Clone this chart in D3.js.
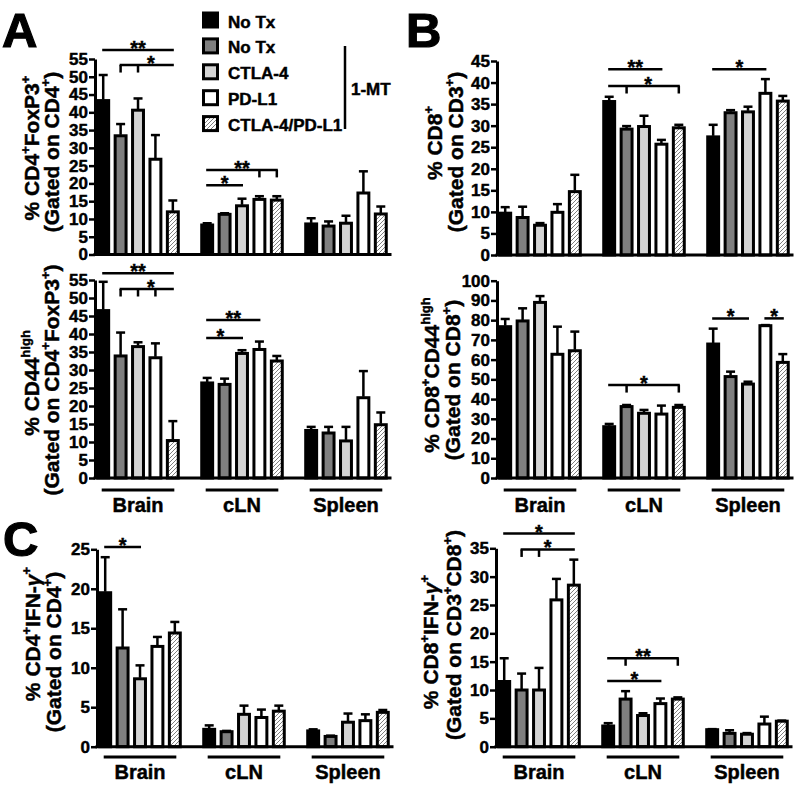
<!DOCTYPE html>
<html><head><meta charset="utf-8">
<script src="https://cdn.jsdelivr.net/npm/d3@7"></script>
<style>
body{margin:0;background:#fff}
svg{display:block}
text{font-family:"Liberation Sans",Arial,Helvetica,sans-serif;font-weight:bold;fill:#000;stroke:#000;stroke-width:0.45px}
</style>
</head><body>
<svg id="chart" width="800" height="790"></svg>
<script>
// ---------- DATA ----------
const groups = ["Brain", "cLN", "Spleen"];
const seriesNames = ["No Tx", "No Tx", "CTLA-4", "PD-L1", "CTLA-4/PD-L1"];
const seriesFills = ["#000000", "#7f7f7f", "#d3d3d3", "#ffffff", "url(#hatch)"];
const bracketLabel = "1-MT";

// Panel A (top): % CD4+FoxP3+
const aTopTicks = [0, 5, 10, 15, 20, 25, 30, 35, 40, 45, 50, 55];
const aTopMean = [[43.3, 33.4, 40.6, 26.8, 12.0], [8.3, 11.3, 13.7, 15.5, 15.3], [8.6, 8.0, 8.8, 17.3, 11.4]];
const aTopSem  = [[7.2, 3.3, 3.3, 6.8, 3.2], [0.5, 0.3, 2.0, 0.9, 1.1], [1.6, 1.3, 2.1, 6.1, 2.1]];
const aTopSig  = [
  {g: 0, from: 0, to: 4, v: 57.5, ticks: [], label: "**"},
  {g: 0, from: 1, to: 4, v: 53.3, ticks: [1, 2], label: "*"},
  {g: 1, from: 0, to: 4, v: 23.8, ticks: [3, 4], label: "**"},
  {g: 1, from: 0, to: 2, v: 19.5, ticks: [], label: "*"}
];
// Panel A (bottom): % CD44high
const aBotTicks = [0, 5, 10, 15, 20, 25, 30, 35, 40, 45, 50, 55];
const aBotMean = [[46.5, 33.9, 36.5, 33.4, 10.4], [26.4, 26.0, 34.6, 35.7, 32.5], [13.2, 12.5, 10.3, 22.3, 14.8]];
const aBotSem  = [[8.0, 6.5, 1.2, 4.0, 5.4], [1.4, 1.6, 0.9, 2.2, 1.4], [1.0, 1.7, 3.9, 7.4, 3.4]];
const aBotSig  = [
  {g: 0, from: 0, to: 4, v: 56.9, ticks: [], label: "**"},
  {g: 0, from: 1, to: 4, v: 52.5, ticks: [1, 2, 3], label: "*"},
  {g: 1, from: 0, to: 3, v: 43.9, ticks: [], label: "**"},
  {g: 1, from: 0, to: 2, v: 38.9, ticks: [], label: "*"}
];
// Panel B (top): % CD8+
const bTopTicks = [0, 5, 10, 15, 20, 25, 30, 35, 40, 45];
const bTopMean = [[9.7, 8.7, 6.9, 9.9, 14.7], [35.6, 29.2, 29.8, 25.7, 29.5], [27.4, 33.0, 33.2, 37.5, 35.7]];
const bTopSem  = [[1.4, 2.5, 0.5, 1.9, 3.9], [1.1, 0.7, 2.5, 1.0, 0.7], [2.8, 0.6, 1.2, 3.3, 1.2]];
const bTopSig  = [
  {g: 1, from: 0, to: 3, v: 43.1, ticks: [], label: "**"},
  {g: 1, from: 0, to: 4, v: 39.2, ticks: [1, 4], label: "*"},
  {g: 2, from: 0, to: 3, v: 43.1, ticks: [], label: "*"}
];
// Panel B (bottom): % CD8+CD44high
const bBotTicks = [0, 10, 20, 30, 40, 50, 60, 70, 80, 90, 100];
const bBotMean = [[76.7, 79.6, 89.0, 62.7, 64.5], [26.0, 36.2, 32.8, 32.4, 35.8], [67.9, 51.4, 47.6, 77.2, 58.6]];
const bBotSem  = [[3.9, 6.4, 3.2, 14.0, 9.7], [1.4, 0.8, 1.7, 4.3, 1.2], [7.8, 2.5, 1.2, 0.3, 4.2]];
const bBotSig  = [
  {g: 1, from: 0, to: 4, v: 47.1, ticks: [1, 4], label: "*"},
  {g: 2, from: 0, to: 2, v: 80.9, ticks: [], label: "*"},
  {g: 2, from: 3, to: 4, v: 80.9, ticks: [], label: "*"}
];
// Panel C (left): % CD4+IFN-γ+
const cLeftTicks = [0, 5, 10, 15, 20, 25];
const cLeftMean = [[19.5, 12.5, 8.6, 12.7, 14.4], [2.2, 1.9, 4.1, 3.7, 4.5], [2.0, 1.3, 3.1, 3.3, 4.35]];
const cLeftSem  = [[4.5, 4.9, 1.7, 1.2, 1.4], [0.5, 0.1, 1.1, 1.0, 0.7], [0.2, 0.1, 1.1, 0.8, 0.3]];
const cLeftSig  = [
  {g: 0, from: 0, to: 2, v: 25.3, ticks: [], label: "*"}
];
// Panel C (right): % CD8+IFN-γ+
const cRightTicks = [0, 5, 10, 15, 20, 25, 30, 35];
const cRightMean = [[11.5, 10.0, 10.0, 25.9, 28.5], [3.65, 8.4, 5.5, 7.6, 8.4], [3.0, 2.35, 2.2, 4.0, 4.5]];
const cRightSem  = [[4.1, 2.9, 3.9, 3.7, 4.5], [0.5, 1.4, 0.4, 0.9, 0.3], [0.1, 0.55, 0.2, 1.3, 0.1]];
const cRightSig  = [
  {g: 0, from: 0, to: 4, v: 37.6, ticks: [], label: "*"},
  {g: 0, from: 1, to: 4, v: 34.8, ticks: [1, 2], label: "*"},
  {g: 1, from: 0, to: 4, v: 15.6, ticks: [1, 4], label: "**"},
  {g: 1, from: 0, to: 3, v: 11.6, ticks: [], label: "*"}
];

// ---------- LAYOUT ----------
const panels = [
  {mean: aTopMean, sem: aTopSem, ticks: aTopTicks, sig: aTopSig, max: 55,
   title: ["% CD4^{+}FoxP3^{+}", "(Gated on CD4^{+})"],
   axisX: 95, x0: 94.5, y0: 254.5, y1: 59, tx: [39, 59], ty: [148, 152], glY: null},
  {mean: aBotMean, sem: aBotSem, ticks: aBotTicks, sig: aBotSig, max: 55,
   title: ["% CD44^{high}", "(Gated on CD4^{+}FoxP3^{+})"],
   axisX: 95, x0: 94.5, y0: 478, y1: 280, tx: [39, 59], ty: [383, 380], glY: 490},
  {mean: bTopMean, sem: bTopSem, ticks: bTopTicks, sig: bTopSig, max: 45,
   title: ["% CD8^{+}", "(Gated on CD3^{+})"],
   axisX: 497, x0: 496.5, y0: 255, y1: 61, tx: [442, 463], ty: [143, 152], glY: null},
  {mean: bBotMean, sem: bBotSem, ticks: bBotTicks, sig: bBotSig, max: 100,
   title: ["% CD8^{+}CD44^{high}", "(Gated on CD8^{+})"],
   axisX: 497, x0: 496.5, y0: 478, y1: 280.7, tx: [439, 460], ty: [375, 380], glY: 490},
  {mean: cLeftMean, sem: cLeftSem, ticks: cLeftTicks, sig: cLeftSig, max: 25,
   title: ["% CD4^{+}IFN-γ^{+}", "(Gated on CD4^{+})"],
   axisX: 97, x0: 96.5, y0: 746.7, y1: 549.3, tx: [40, 61], ty: [634, 652], glY: 757},
  {mean: cRightMean, sem: cRightSem, ticks: cRightTicks, sig: cRightSig, max: 35,
   title: ["% CD8^{+}IFN-γ^{+}", "(Gated on CD3^{+}CD8^{+})"],
   axisX: 496, x0: 495.5, y0: 746.7, y1: 548.3, tx: [438, 461], ty: [642, 635], glY: 757}
];

const svg = d3.select("#chart");
const defs = svg.append("defs");
const pat = defs.append("pattern").attr("id", "hatch").attr("patternUnits", "userSpaceOnUse")
  .attr("width", 4).attr("height", 4);
pat.append("rect").attr("width", 4).attr("height", 4).attr("fill", "#fff");
pat.append("path").attr("d", "M-1,1 l2,-2 M0,4 l4,-4 M3,5 l2,-2")
  .attr("stroke", "#808080").attr("stroke-width", 1);

function rich(sel, str, fs) {
  const parts = str.split(/(\^\{[^}]*\})/);
  let sup = false;
  parts.forEach(p => {
    if (!p) return;
    if (p.startsWith("^{")) {
      sel.append("tspan").attr("font-size", fs * 0.62).attr("dy", sup ? 0 : -fs * 0.42).text(p.slice(2, -1));
      sup = true;
    } else {
      const segs = p.split(/(γ)/);
      segs.forEach(s => {
        if (!s) return;
        const t = sel.append("tspan").text(s);
        if (s === "γ") t.attr("font-style", "italic");
        if (sup) { t.attr("dy", fs * 0.42); sup = false; }
      });
    }
  });
}

function overlaps(a, b) {
  return a.x < b.x + b.width && b.x < a.x + a.width && a.y < b.y + b.height && b.y < a.y + a.height;
}

panels.forEach(p => {
  const g = svg.append("g");
  const y = d3.scaleLinear().domain([0, p.max]).range([p.y0, p.y1]);
  const xg = d3.scaleBand().domain(groups).range([p.x0, p.x0 + 295]).paddingInner(0.163).paddingOuter(0);
  const xs = d3.scaleBand().domain(d3.range(seriesNames.length)).range([0, xg.bandwidth()])
    .paddingInner(0.2).paddingOuter(0.1);
  const cx = (gi, si) => xg(groups[gi]) + xs(si) + xs.bandwidth() / 2;

  // bars
  groups.forEach((grp, gi) => {
    p.mean[gi].forEach((v, si) => {
      const bx = xg(grp) + xs(si);
      g.append("rect")
        .attr("x", bx + 1.5).attr("y", y(v))
        .attr("width", xs.bandwidth() - 3).attr("height", y(0) - y(v))
        .attr("fill", seriesFills[si]).attr("stroke", "#000").attr("stroke-width", 3);
    });
  });
  // error bars
  groups.forEach((grp, gi) => {
    p.mean[gi].forEach((v, si) => {
      const c = cx(gi, si);
      const top = y(v + p.sem[gi][si]);
      g.append("line").attr("x1", c).attr("x2", c).attr("y1", y(v) - 1).attr("y2", top)
        .attr("stroke", "#000").attr("stroke-width", 2.5);
      g.append("line").attr("x1", c - 4.5).attr("x2", c + 4.5).attr("y1", top).attr("y2", top)
        .attr("stroke", "#000").attr("stroke-width", 2.5);
    });
  });

  // x axis line
  g.append("line").attr("x1", p.axisX - 1.5).attr("x2", p.x0 + 297).attr("y1", y(0)).attr("y2", y(0))
    .attr("stroke", "#000").attr("stroke-width", 3);

  // y axis
  const ax = g.append("g").attr("transform", `translate(${p.axisX},0)`)
    .call(d3.axisLeft(y).tickValues(p.ticks).tickSize(6).tickSizeOuter(0).tickPadding(1));
  ax.attr("font-family", null).attr("font-size", null);
  ax.select(".domain").attr("stroke", "#000").attr("stroke-width", 3);
  ax.selectAll(".tick line").attr("stroke", "#000").attr("stroke-width", 2.5);
  ax.selectAll(".tick text").attr("font-size", 17).attr("fill", "#000");

  // y titles
  p.title.forEach((t, i) => {
    const tt = g.append("text").attr("text-anchor", "middle").attr("font-size", 21)
      .attr("transform", `translate(${p.tx[i]},${p.ty[i]}) rotate(-90)`);
    rich(tt, t, 21);
  });

  // significance
  const placed = [];
  p.sig.forEach(s => {
    const yy = y(s.v);
    const xa = cx(s.g, s.from), xb = cx(s.g, s.to);
    g.append("line").attr("x1", xa - 1).attr("x2", xb + 1).attr("y1", yy).attr("y2", yy)
      .attr("stroke", "#000").attr("stroke-width", 2.5);
    s.ticks.forEach(t => {
      const xt = cx(s.g, t);
      g.append("line").attr("x1", xt).attr("x2", xt).attr("y1", yy).attr("y2", yy + 7.5)
        .attr("stroke", "#000").attr("stroke-width", 2.5);
    });
    const mid = (xa + xb) / 2;
    const lbl = g.append("text").attr("x", mid).attr("y", yy + 5).attr("text-anchor", "middle")
      .attr("font-size", 20).text(s.label);
    const bb = lbl.node().getBBox();
    const hits = placed.filter(q => overlaps(bb, q));
    if (hits.length) {
      const right = d3.max(hits, q => q.x + q.width) - bb.x + 1;
      const left = bb.x + bb.width - d3.min(hits, q => q.x) + 1;
      const okR = mid + right <= xb, okL = mid - left >= xa;
      let shift;
      if (okR && (!okL || right <= left)) shift = right;
      else if (okL) shift = -left;
      else shift = right <= left ? right : -left;
      lbl.attr("x", mid + shift);
    }
    placed.push(lbl.node().getBBox());
  });

  // group labels
  if (p.glY !== null) {
    groups.forEach((grp, gi) => {
      g.append("line").attr("x1", cx(gi, 0) - 1.5).attr("x2", cx(gi, 4) + 1.5)
        .attr("y1", p.glY).attr("y2", p.glY).attr("stroke", "#000").attr("stroke-width", 3);
      g.append("text").attr("x", (cx(gi, 0) + cx(gi, 4)) / 2).attr("y", p.glY + 22)
        .attr("text-anchor", "middle").attr("font-size", 20).text(grp);
    });
  }
});

// legend
const lg = svg.append("g");
seriesNames.forEach((n, i) => {
  const cy = 20 + i * 25.9;
  lg.append("rect").attr("x", 203.5).attr("y", cy - 7).attr("width", 14).attr("height", 14)
    .attr("fill", seriesFills[i]).attr("stroke", "#000").attr("stroke-width", 3);
  lg.append("text").attr("x", 228).attr("y", cy + 7.5).attr("font-size", 17).text(n);
});
lg.append("line").attr("x1", 345).attr("x2", 345).attr("y1", 46).attr("y2", 129)
  .attr("stroke", "#000").attr("stroke-width", 2.5);
lg.append("text").attr("x", 351).attr("y", 95).attr("font-size", 17).text(bracketLabel);

// panel letters
[["A", 2, 47], ["B", 406, 47], ["C", 3, 556]].forEach(([t, x, yy]) => {
  svg.append("text").attr("x", x).attr("y", yy).attr("font-size", 49).style("stroke-width", "1.2px").text(t);
});
</script>
</body></html>
